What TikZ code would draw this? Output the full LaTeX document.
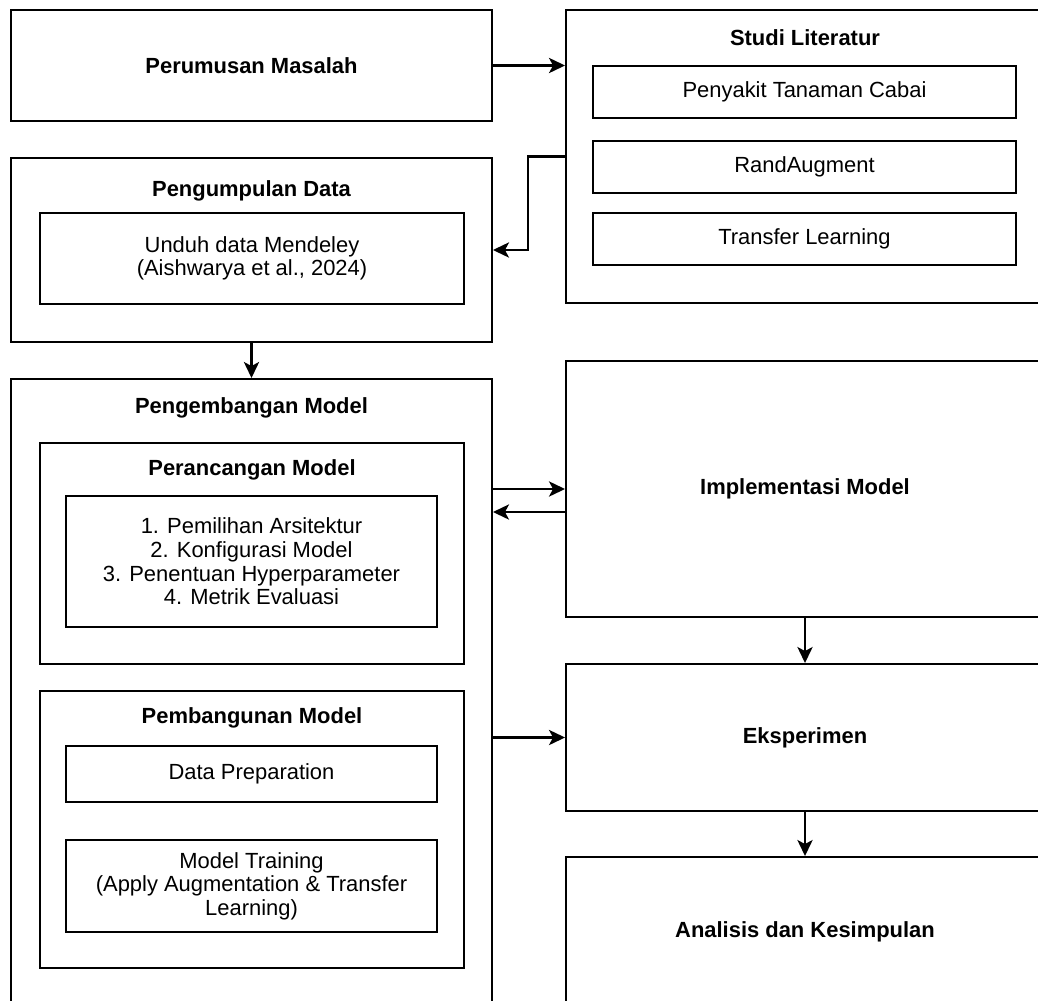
\documentclass[tikz,border=0pt]{standalone}
\usepackage{fontspec}
\setmainfont{Liberation Sans}
\usepackage{tikz}
\usetikzlibrary{arrows.meta}

\tikzset{
	box/.style 2 args={draw, line width=1.4pt, inner sep=0pt, minimum width=#1*0.025cm, minimum height=#2*0.025cm},
	ttl/.style={font=\fontsize{15.6}{16.8}\selectfont\bfseries},
	arr/.style={line width=1.6pt, -{Stealth[length=0.4cm, width=0.38cm, inset=0.1cm]}},
}

\begin{document}
\begin{tikzpicture}[x=0.025cm, y=-0.025cm, font=\fontsize{15.6}{16.8}\selectfont]
		\useasboundingbox (0,0) rectangle (1038,1000);
		\clip (0,0) rectangle (1038,1000);
		
		% left column
		\node[box={481}{111}, ttl] (perumusan) at (251.5,65.5) {Perumusan Masalah};
		
		\node[box={481}{184}] (pengumpulan) at (251.5,250) {};
		\node[ttl] (pengumpulanT) at (251.5,191) {Pengumpulan Data};
		\node[box={424}{91}, align=center] (unduh) at (252,258.5) {Unduh data Mendeley\\(Aishwarya et al., 2024)};
		
		\node[box={481}{641}] (pengembangan) at (251.5,699.5) {};
		\node[ttl] (pengembanganT) at (251.5,408) {Pengembangan Model};
		
		\node[box={424}{221}] (perancangan) at (252,553.5) {};
		\node[ttl] (perancanganT) at (252,470) {Perancangan Model};
		\node[box={371}{131}, align=center] (langkah) at (251.5,561.5) {1. Pemilihan Arsitektur\\2. Konfigurasi Model\\3. Penentuan Hyperparameter\\4. Metrik Evaluasi};
		
		\node[box={424}{277}] (pembangunan) at (252,829.5) {};
		\node[ttl] (pembangunanT) at (252,718) {Pembangunan Model};
		\node[box={371}{56}] (dataprep) at (251.5,774) {Data Preparation};
		\node[box={371}{92}, align=center] (training) at (251.5,886) {Model Training\\(Apply Augmentation \& Transfer\\Learning)};
		
		% right column
		\node[box={478}{293}] (studi) at (805,156.5) {};
		\node[ttl] (studiT) at (805,38) {Studi Literatur};
		\foreach \y/\name/\txt in {92/penyakit/Penyakit Tanaman Cabai, 167/randaug/RandAugment, 239/transfer/Transfer Learning} {
			\node[box={423}{52}] (\name) at (804.5,\y) {\txt};
		}
		
		\node[box={478}{256}, ttl] (implementasi) at (805,489) {Implementasi Model};
		\node[box={478}{147}, ttl] (eksperimen) at (805,737.5) {Eksperimen};
		\node[box={478}{150}, ttl] (analisis) at (805,932) {Analisis dan Kesimpulan};
		
		% connectors
		\draw[arr] (perumusan.east) -- (perumusan.east -| studi.west);
		\draw[arr] (studi.west) -- ++(-37,0) |- (pengumpulan.east);
		\draw[arr] (pengumpulan.south) -- (pengumpulan.south |- pengembangan.north);
		\draw[arr] (pengembangan.east |- implementasi.west) -- (implementasi.west);
		\draw[arr] ([yshift=-0.575cm]implementasi.west) -- ([yshift=-0.575cm]pengembangan.east |- implementasi.west);
		\draw[arr] (pengembangan.east |- eksperimen.west) -- (eksperimen.west);
		\draw[arr] (implementasi.south) -- (eksperimen.north);
		\draw[arr] (eksperimen.south) -- (analisis.north);
	\end{tikzpicture}
\end{document}
